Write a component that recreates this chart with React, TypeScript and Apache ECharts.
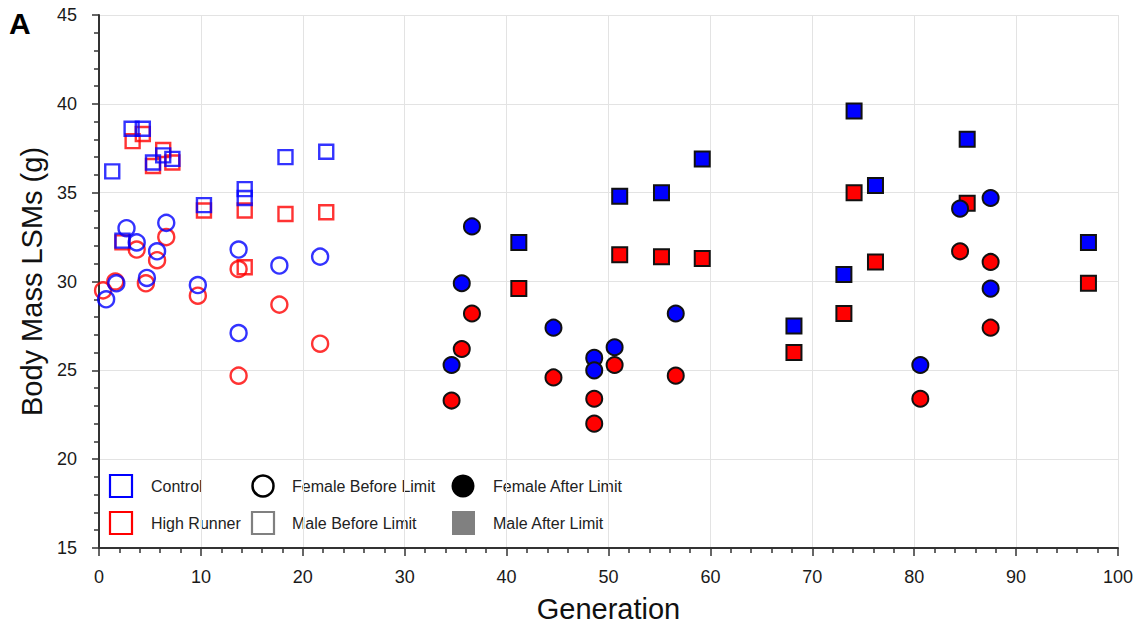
import React, { useEffect, useRef } from "react";
import * as echarts from "echarts";

// Body mass LSMs (g) by generation: [generation, mass]
const controlFemaleBefore: number[][] = [
  [0.7, 29.0], [1.7, 29.9], [2.7, 33.0], [3.7, 32.2], [4.7, 30.2], [5.7, 31.7],
  [6.6, 33.3], [9.7, 29.8], [13.7, 31.8], [13.7, 27.1], [17.7, 30.9], [21.7, 31.4],
];
const highRunnerFemaleBefore: number[][] = [
  [0.4, 29.5], [1.6, 30.0], [3.7, 31.8], [4.6, 29.9], [5.7, 31.2], [6.6, 32.5],
  [9.7, 29.2], [13.7, 30.7], [13.7, 24.7], [17.7, 28.7], [21.7, 26.5],
];
const controlMaleBefore: number[][] = [
  [1.3, 36.2], [2.3, 32.3], [3.2, 38.6], [4.3, 38.6], [5.3, 36.7], [6.3, 37.1],
  [7.2, 36.9], [10.3, 34.3], [14.3, 35.2], [14.3, 34.7], [18.3, 37.0], [22.3, 37.3],
];
const highRunnerMaleBefore: number[][] = [
  [2.3, 32.2], [3.3, 37.9], [4.3, 38.3], [5.3, 36.5], [6.3, 37.4], [7.2, 36.7],
  [10.3, 34.0], [14.3, 34.0], [14.3, 30.8], [18.3, 33.8], [22.3, 33.9],
];
const controlFemaleAfter: number[][] = [
  [34.6, 25.3], [35.6, 29.9], [36.6, 33.1], [44.6, 27.4], [48.6, 25.7], [48.6, 25.0],
  [50.6, 26.3], [56.6, 28.2], [80.6, 25.3], [84.5, 34.1], [87.5, 34.7], [87.5, 29.6],
];
const highRunnerFemaleAfter: number[][] = [
  [34.6, 23.3], [35.6, 26.2], [36.6, 28.2], [44.6, 24.6], [48.6, 23.4], [48.6, 22.0],
  [50.6, 25.3], [56.6, 24.7], [80.6, 23.4], [84.5, 31.7], [87.5, 31.1], [87.5, 27.4],
];
const controlMaleAfter: number[][] = [
  [41.2, 32.2], [51.1, 34.8], [55.2, 35.0], [59.2, 36.9], [68.2, 27.5],
  [73.1, 30.4], [74.1, 39.6], [76.2, 35.4], [85.2, 38.0], [97.1, 32.2],
];
const highRunnerMaleAfter: number[][] = [
  [41.2, 29.6], [51.1, 31.5], [55.2, 31.4], [59.2, 31.3], [68.2, 26.0],
  [73.1, 28.2], [74.1, 35.0], [76.2, 31.1], [85.2, 34.4], [97.1, 29.9],
];

const legendRow1 = ["Control", "Female Before Limit", "Female After Limit"];
const legendRow2 = ["High Runner", "Male Before Limit", "Male After Limit"];

const BLUE = "#0000ff";
const RED = "#ff0000";
const FONT = "'Liberation Sans', Arial, sans-serif";

function openSeries(name: string, data: number[][], color: string, symbol: string, size: number) {
  return {
    name,
    type: "scatter",
    data,
    symbol,
    symbolSize: size,
    itemStyle: { color: "rgba(0,0,0,0)", borderColor: color, borderWidth: 2.4 },
  };
}

function filledSeries(name: string, data: number[][], color: string, symbol: string, size: number) {
  return {
    name,
    type: "scatter",
    data,
    symbol,
    symbolSize: size,
    itemStyle: { color, borderColor: "#111", borderWidth: 2, opacity: 1 },
  };
}

export default function App() {
  const ref = useRef<HTMLDivElement>(null);

  useEffect(() => {
    if (!ref.current) return;
    const chart = echarts.init(ref.current, undefined, { renderer: "svg" });

    const lx = [121, 263, 463];
    const tx = [151, 292, 493];
    const ry = [486, 523];
    const textStyle = (t: string, x: number, y: number) => ({
      type: "text",
      x,
      y,
      style: { text: t, fill: "#222", font: `16px ${FONT}`, textVerticalAlign: "middle" },
    });

    const legend: any[] = [
      { type: "rect", shape: { x: lx[0] - 11, y: ry[0] - 11, width: 22, height: 22 }, style: { fill: "none", stroke: BLUE, lineWidth: 2.2 } },
      { type: "rect", shape: { x: lx[0] - 11, y: ry[1] - 11, width: 22, height: 22 }, style: { fill: "none", stroke: RED, lineWidth: 2.2 } },
      { type: "circle", shape: { cx: lx[1], cy: ry[0], r: 10.5 }, style: { fill: "none", stroke: "#000", lineWidth: 2.5 } },
      { type: "rect", shape: { x: lx[1] - 11, y: ry[1] - 11, width: 22, height: 22 }, style: { fill: "none", stroke: "#808080", lineWidth: 2.2 } },
      { type: "circle", shape: { cx: lx[2], cy: ry[0], r: 11.5 }, style: { fill: "#000" } },
      { type: "rect", shape: { x: lx[2] - 11, y: ry[1] - 12, width: 23, height: 24 }, style: { fill: "#808080" } },
    ];
    legendRow1.forEach((t, i) => legend.push(textStyle(t, tx[i], ry[0])));
    legendRow2.forEach((t, i) => legend.push(textStyle(t, tx[i], ry[1])));

    chart.setOption({
      animation: false,
      backgroundColor: "#fff",
      textStyle: { fontFamily: FONT },
      grid: { left: 99, right: 30, top: 15, bottom: 86 },
      xAxis: {
        type: "value",
        min: 0,
        max: 100,
        interval: 10,
        name: "Generation",
        nameLocation: "middle",
        nameGap: 46,
        nameTextStyle: { fontSize: 29, color: "#111", fontFamily: FONT },
        axisLine: { onZero: false, lineStyle: { color: "#333", width: 2 } },
        axisTick: { show: true, length: 8, lineStyle: { color: "#333", width: 1.5 } },
        minorTick: { show: true, splitNumber: 5, length: 5, lineStyle: { color: "#333", width: 1.5 } },
        axisLabel: { fontSize: 18, color: "#1a1a1a", margin: 20, fontFamily: FONT },
        splitLine: { show: true, lineStyle: { color: "#e3e3e3", width: 1 } },
      },
      yAxis: {
        type: "value",
        min: 15,
        max: 45,
        interval: 5,
        name: "Body Mass LSMs (g)",
        nameLocation: "middle",
        nameGap: 47,
        nameTextStyle: { fontSize: 29, color: "#111", fontFamily: FONT },
        axisLine: { show: true, onZero: false, lineStyle: { color: "#333", width: 2 } },
        axisTick: { show: true, length: 7, lineStyle: { color: "#333", width: 1.5 } },
        minorTick: { show: true, splitNumber: 5, length: 5, lineStyle: { color: "#333", width: 1.5 } },
        axisLabel: { fontSize: 18, color: "#1a1a1a", margin: 22, fontFamily: FONT },
        splitLine: { show: true, lineStyle: { color: "#e3e3e3", width: 1 } },
      },
      graphic: [
        {
          type: "text",
          left: 9,
          top: 8,
          style: { text: "A", fill: "#000", font: `bold 30px ${FONT}` },
        },
        ...legend,
      ],
      series: [
        openSeries("High Runner Male Before Limit", highRunnerMaleBefore, RED, "rect", 14),
        openSeries("High Runner Female Before Limit", highRunnerFemaleBefore, RED, "circle", 16),
        openSeries("Control Male Before Limit", controlMaleBefore, BLUE, "rect", 14),
        openSeries("Control Female Before Limit", controlFemaleBefore, BLUE, "circle", 16),
        filledSeries("High Runner Male After Limit", highRunnerMaleAfter, RED, "rect", 15),
        filledSeries("High Runner Female After Limit", highRunnerFemaleAfter, RED, "circle", 16),
        filledSeries("Control Male After Limit", controlMaleAfter, BLUE, "rect", 15),
        filledSeries("Control Female After Limit", controlFemaleAfter, BLUE, "circle", 16),
      ],
    });

    return () => chart.dispose();
  }, []);

  return (
    <div
      ref={ref}
      style={{ position: "absolute", left: 0, top: 0, width: 1148, height: 634 }}
    />
  );
}
